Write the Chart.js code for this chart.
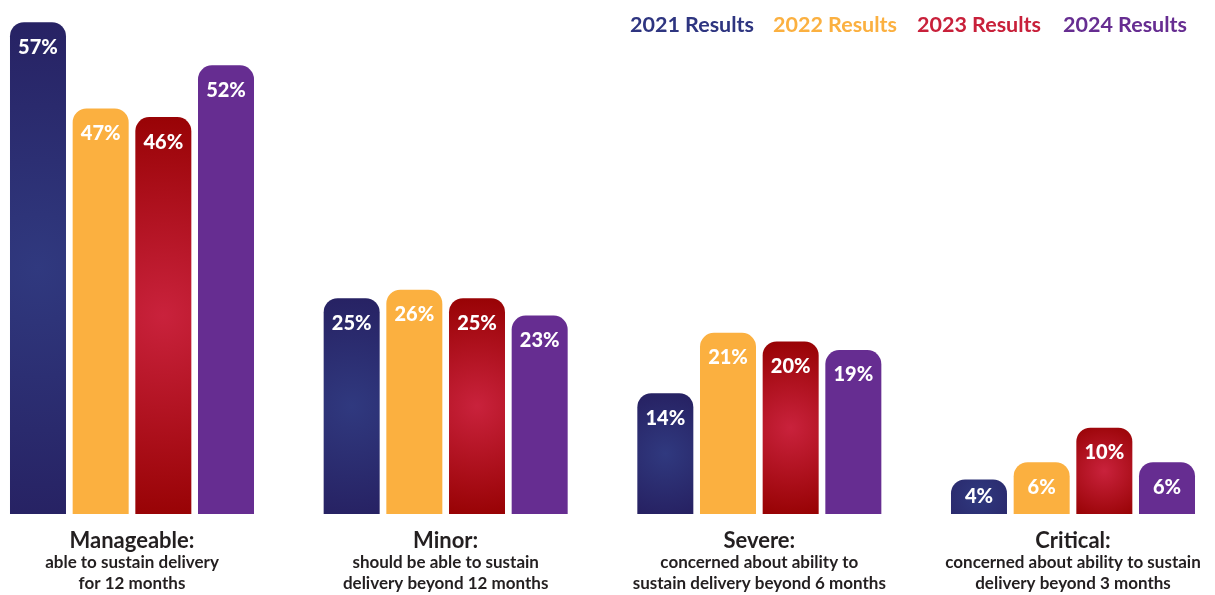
<!DOCTYPE html>
<html>
<head>
<meta charset="utf-8">
<script src="https://cdn.jsdelivr.net/npm/chart.js@4.4.1/dist/chart.umd.min.js"></script>
<style>
  html, body { margin: 0; padding: 0; background: #fff; }
  #wrap { width: 1215px; height: 595px; position: relative; }
</style>
</head>
<body>
<div id="wrap"><canvas id="chart"></canvas></div>
<script>
// categories and their descriptions
const categories = ['Manageable:', 'Minor:', 'Severe:', 'Critical:'];
const descriptions = [
    ['able to sustain delivery', 'for 12 months'],
    ['should be able to sustain', 'delivery beyond 12 months'],
    ['concerned about ability to', 'sustain delivery beyond 6 months'],
    ['concerned about ability to sustain', 'delivery beyond 3 months']
];

// series values (%)
const seriesLabels = ['2021 Results', '2022 Results', '2023 Results', '2024 Results'];
const results2021 = [57, 25, 14, 4];
const results2022 = [47, 26, 21, 6];
const results2023 = [46, 25, 20, 10];
const results2024 = [52, 23, 19, 6];

const legendColors = ['#2e3580', '#fbb040', '#c8203a', '#662d91'];

const FONT = 'Lato, "Open Sans", sans-serif';

// radial glow for the navy and red bars
function glowFill(inner, outer) {
    return (ctx) => {
        const chart = ctx.chart;
        const xs = chart.scales.x, ys = chart.scales.y;
        if (!xs || !ys || ctx.type !== 'data') return outer;
        const gap = xs.getPixelForValue(1) - xs.getPixelForValue(0);
        const chunk = gap * 0.7992 / 4;
        const cx = xs.getPixelForValue(ctx.dataIndex) + (ctx.datasetIndex - 1.5) * chunk;
        const top = ys.getPixelForValue(ctx.raw);
        const base = ys.getPixelForValue(0);
        const cy = (top + base) / 2;
        const r = Math.max(55, (base - top) * 0.55);
        if (![cx, cy, r].every(Number.isFinite)) return outer;
        const g = chart.ctx.createRadialGradient(cx, cy, 0, cx, cy, r);
        g.addColorStop(0, inner);
        g.addColorStop(1, outer);
        return g;
    };
}

const valueLabels = {
    id: 'valueLabels',
    afterDatasetsDraw(chart) {
        const ctx = chart.ctx;
        ctx.save();
        ctx.fillStyle = '#ffffff';
        ctx.font = '900 20px ' + FONT;
        ctx.textAlign = 'center';
        ctx.textBaseline = 'middle';
        chart.data.datasets.forEach((ds, di) => {
            chart.getDatasetMeta(di).data.forEach((bar, i) => {
                const y = Math.min(bar.y + 25, (bar.y + bar.base) / 2);
                ctx.fillText(ds.data[i] + '%', bar.x, y);
            });
        });
        ctx.restore();
    }
};

const categoryLabels = {
    id: 'categoryLabels',
    afterDraw(chart) {
        const ctx = chart.ctx;
        const xs = chart.scales.x;
        ctx.save();
        ctx.fillStyle = '#231f20';
        ctx.textAlign = 'center';
        ctx.textBaseline = 'middle';
        categories.forEach((c, i) => {
            const x = xs.getPixelForValue(i);
            ctx.font = 'bold 22px ' + FONT;
            ctx.fillText(c, x, 541);
            ctx.font = 'bold 17px ' + FONT;
            ctx.fillText(descriptions[i][0], x, 563);
            ctx.fillText(descriptions[i][1], x, 584);
        });
        ctx.restore();
    }
};

const topLegend = {
    id: 'topLegend',
    afterDraw(chart) {
        const ctx = chart.ctx;
        const centers = [692, 835, 979, 1125];
        ctx.save();
        ctx.font = 'bold 21.5px ' + FONT;
        ctx.textAlign = 'center';
        ctx.textBaseline = 'middle';
        chart.data.datasets.forEach((ds, i) => {
            ctx.fillStyle = legendColors[i];
            ctx.fillText(ds.label, centers[i], 25);
        });
        ctx.restore();
    }
};

const datasetBase = {
    borderRadius: 14,
    borderSkipped: 'start',
    categoryPercentage: 0.7992,
    barPercentage: 0.8936,
    clip: false
};

new Chart(document.getElementById('chart'), {
    type: 'bar',
    data: {
        labels: categories,
        datasets: [
            { ...datasetBase, label: seriesLabels[0], data: results2021, backgroundColor: glowFill('#30397f', '#262061') },
            { ...datasetBase, label: seriesLabels[1], data: results2022, backgroundColor: '#fbb040' },
            { ...datasetBase, label: seriesLabels[2], data: results2023, backgroundColor: glowFill('#c9223c', '#940000') },
            { ...datasetBase, label: seriesLabels[3], data: results2024, backgroundColor: '#662d91' }
        ]
    },
    options: {
        responsive: true,
        maintainAspectRatio: false,
        animation: false,
        events: [],
        layout: {
            padding: { top: 13.5, bottom: 81, left: 132, right: 142 }
        },
        plugins: {
            legend: { display: false },
            tooltip: { enabled: false }
        },
        scales: {
            x: {
                display: false,
                offset: false
            },
            y: {
                display: false,
                min: 0,
                max: 58
            }
        }
    },
    plugins: [valueLabels, categoryLabels, topLegend]
});
</script>
</body>
</html>
